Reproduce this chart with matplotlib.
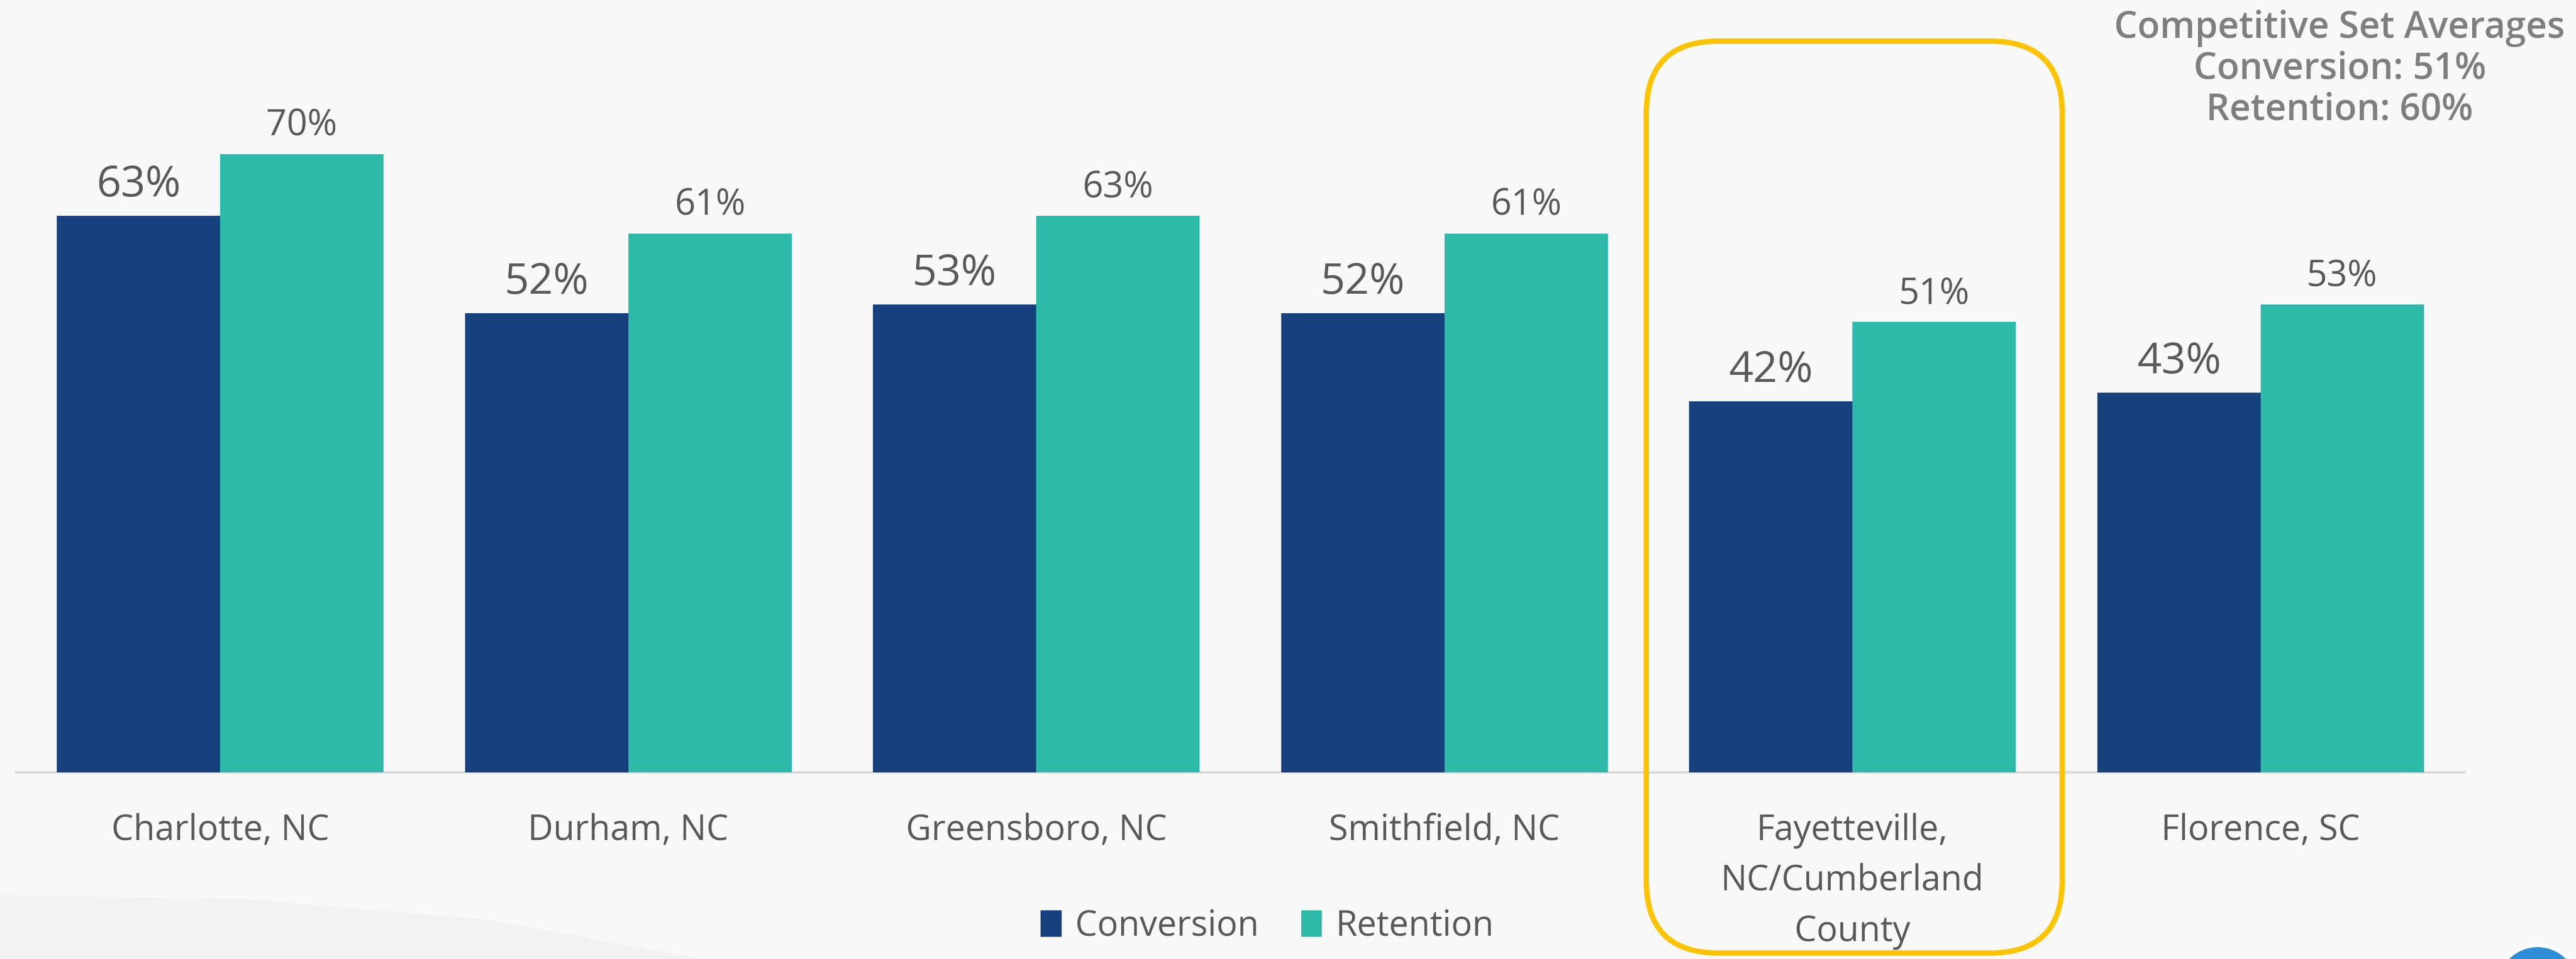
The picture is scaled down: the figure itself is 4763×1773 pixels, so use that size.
import matplotlib
matplotlib.use("Agg")
import matplotlib.pyplot as plt
import numpy as np
from matplotlib.patches import FancyBboxPatch, Ellipse, Polygon

plt.rcParams['font.family'] = ['Open Sans', 'DejaVu Sans']

# data
cities = ['Charlotte, NC', 'Durham, NC', 'Greensboro, NC', 'Smithfield, NC',
          'Fayetteville,\nNC/Cumberland\nCounty', 'Florence, SC']
conversion = [63, 52, 53, 52, 42, 43]
retention = [70, 61, 63, 61, 51, 53]
avg_conversion = 51
avg_retention = 60

navy = '#17417D'
teal = '#2DBAA9'
text_grey = '#595959'
bg = '#F8F8F8'

W, H = 4763, 1773
fig = plt.figure(figsize=(W / 300, H / 300), dpi=300, facecolor=bg)

# faint background wave at the bottom left
wave = Polygon([(0, 0), (0, 1 - 1655 / H), (450 / W, 1 - 1662 / H),
                (900 / W, 1 - 1700 / H), (1300 / W, 1 - 1773 / H)],
               closed=True, transform=fig.transFigure, facecolor='#F2F2F2',
               edgecolor='none', zorder=0)
fig.patches.append(wave)

ax = fig.add_axes([30 / W, 1 - 1428 / H, (4557 - 30) / W, 1428 / H])
ax.set_facecolor('none')

x = np.arange(len(cities))
w = 0.4
b1 = ax.bar(x - w / 2, conversion, w, color=navy, label='Conversion', zorder=3)
b2 = ax.bar(x + w / 2, retention, w, color=teal, label='Retention', zorder=3)

for rect, v in zip(b1, conversion):
    ax.annotate(f'{v}%', (rect.get_x() + rect.get_width() / 2, v),
                xytext=(0, 8.6), textcoords='offset points', ha='center',
                va='baseline', fontsize=19, color=text_grey)
for rect, v in zip(b2, retention):
    ax.annotate(f'{v}%', (rect.get_x() + rect.get_width() / 2, v),
                xytext=(0, 8.2), textcoords='offset points', ha='center',
                va='baseline', fontsize=16, color=text_grey)

ax.set_xlim(-0.5, len(cities) - 0.5)
ax.set_ylim(0, 87.45)
ax.set_yticks([])
ax.set_xticks(x)
ax.set_xticklabels(cities, fontsize=15.5, color=text_grey, linespacing=1.55)
ax.tick_params(axis='x', length=0, pad=18)
for s in ['top', 'left', 'right']:
    ax.spines[s].set_visible(False)
ax.spines['bottom'].set_color('#D9D9D9')
ax.spines['bottom'].set_linewidth(1.0)

leg = fig.legend(loc='center', bbox_to_anchor=(0.492, 1 - 1713 / H), ncol=2,
                 frameon=False, fontsize=15.5, handlelength=0.6,
                 handleheight=0.8, handletextpad=0.4, columnspacing=1.2)
for t in leg.get_texts():
    t.set_color(text_grey)

# highlight box around Fayetteville
box = FancyBboxPatch((3044 / W, 1 - 1762 / H), (3813 - 3044) / W, (1762 - 76) / H,
                     boxstyle='round,pad=0,rounding_size=0.028',
                     transform=fig.transFigure, facecolor='none',
                     edgecolor='#FCC400', linewidth=2.4, zorder=5,
                     mutation_aspect=W / H)
fig.patches.append(box)

fig.text(4326 / W, 1 - 18 / H,
         f'Competitive Set Averages\nConversion: {avg_conversion}%\nRetention: {avg_retention}%',
         ha='center', va='top', fontsize=16.3, color='#7F7F7F',
         fontweight='semibold', linespacing=1.13)

# partial logo circle in the corner
logo = Ellipse((4692 / W, 1 - 1825 / H), 2 * 77 / W, 2 * 77 / H,
               transform=fig.transFigure, facecolor='#2E8FD8',
               edgecolor='white', linewidth=1.5, zorder=6)
fig.patches.append(logo)

fig.savefig('out.png', dpi=300, facecolor=bg)
